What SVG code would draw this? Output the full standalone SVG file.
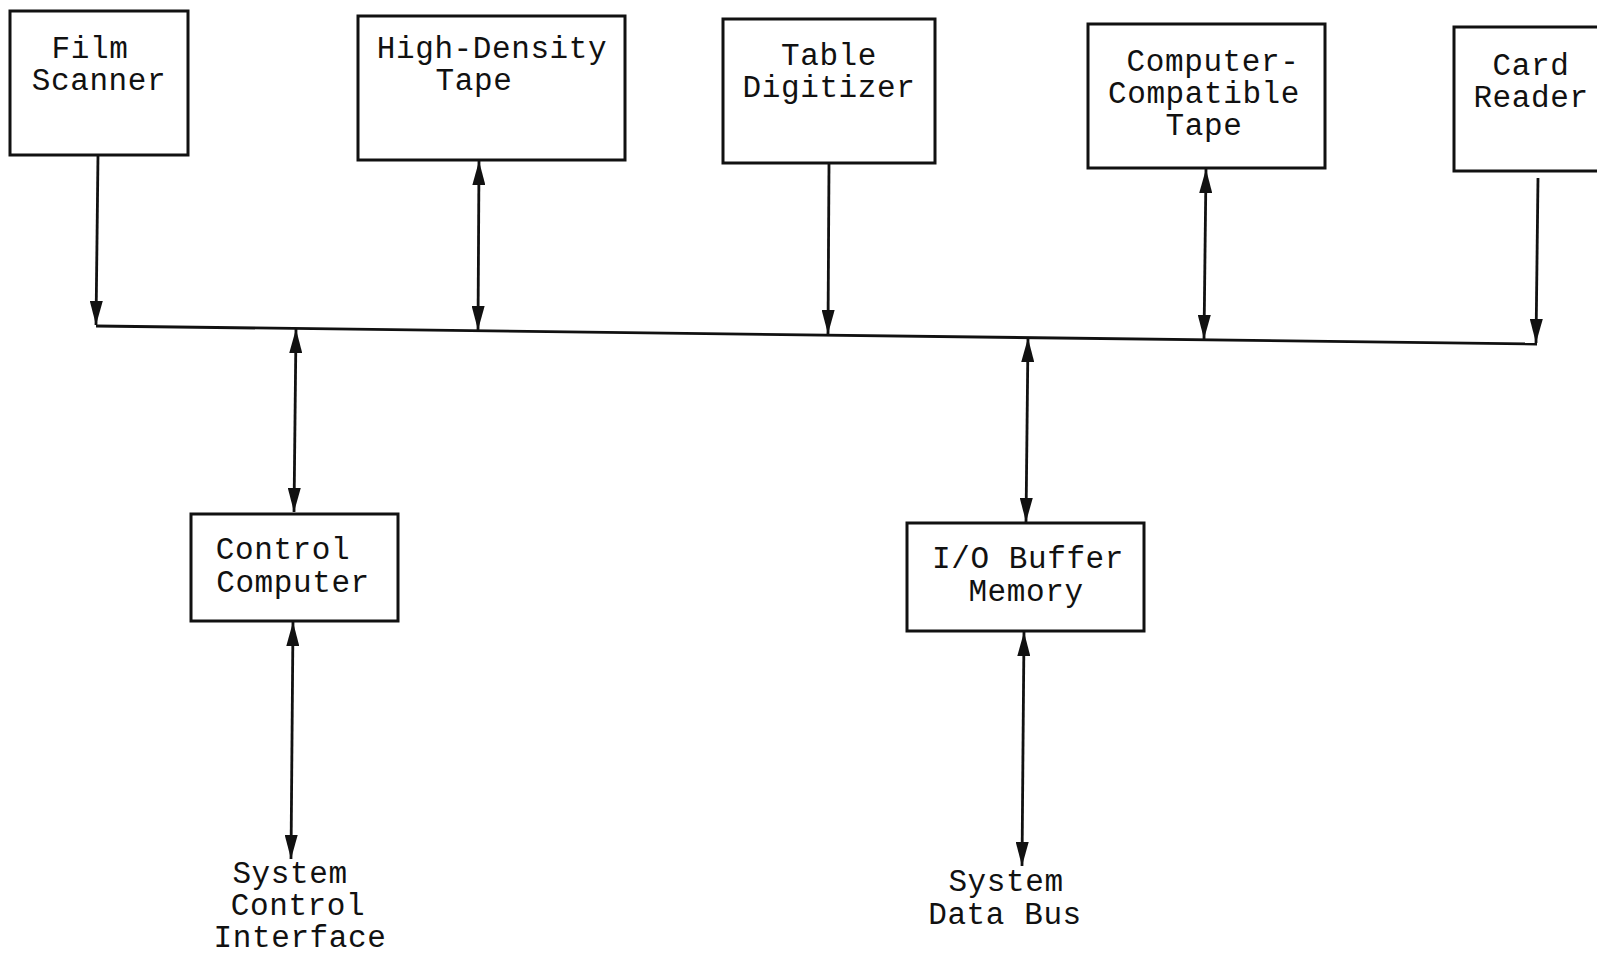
<svg xmlns="http://www.w3.org/2000/svg" width="1597" height="954" viewBox="0 0 1597 954">
  <defs>
    <marker id="head" viewBox="0 0 24 13" refX="24" refY="6.5" markerWidth="24" markerHeight="13" markerUnits="userSpaceOnUse" orient="auto-start-reverse">
      <path d="M0,0 L24,6.5 L0,13 z" fill="#111"/>
    </marker>
    <style>
      .box { fill: #fff; stroke: #111; stroke-width: 3; }
      .lbl { font-family: "Liberation Mono", "Courier New", monospace; font-size: 31px; letter-spacing: 0.6px; fill: #111; text-anchor: middle; }
      .wire { fill: none; stroke: #111; stroke-width: 2.8; }
      .one { marker-end: url(#head); }
      .two { marker-start: url(#head); marker-end: url(#head); }
    </style>
  </defs>
  <rect width="1597" height="954" fill="#fff"/>

  <!-- connectors -->
  <g id="connectors">
    <!-- shared bus -->
    <line class="wire" x1="96" y1="326" x2="1537" y2="344"/>
    <!-- device drops onto the bus -->
    <line class="wire one" x1="98" y1="155" x2="96" y2="325"/>
    <line class="wire two" x1="479" y1="161" x2="478" y2="330"/>
    <line class="wire one" x1="829" y1="164" x2="828" y2="334"/>
    <line class="wire two" x1="1206" y1="169" x2="1204" y2="339"/>
    <line class="wire one" x1="1538" y1="178" x2="1536" y2="343"/>
    <!-- bus to processing units -->
    <line class="wire two" x1="296" y1="329" x2="294" y2="512"/>
    <line class="wire two" x1="1028" y1="338" x2="1026" y2="522"/>
    <!-- outward links -->
    <line class="wire two" x1="293" y1="622" x2="291" y2="859"/>
    <line class="wire two" x1="1024" y1="632" x2="1022" y2="866"/>
  </g>

  <g id="film-scanner">
    <rect class="box" x="10" y="11" width="178" height="144"/>
    <text class="lbl" x="90" y="58">Film</text>
    <text class="lbl" x="99" y="90">Scanner</text>
  </g>

  <g id="high-density-tape">
    <rect class="box" x="358" y="16" width="267" height="144"/>
    <text class="lbl" x="492" y="58">High-Density</text>
    <text class="lbl" x="474" y="90">Tape</text>
  </g>

  <g id="table-digitizer">
    <rect class="box" x="723" y="19" width="212" height="144"/>
    <text class="lbl" x="829" y="65">Table</text>
    <text class="lbl" x="829" y="97">Digitizer</text>
  </g>

  <g id="cct">
    <rect class="box" x="1088" y="24" width="237" height="144"/>
    <text class="lbl" x="1213" y="71">Computer-</text>
    <text class="lbl" x="1204" y="103">Compatible</text>
    <text class="lbl" x="1204" y="135">Tape</text>
  </g>

  <g id="card-reader">
    <rect class="box" x="1454" y="27" width="160" height="144"/>
    <text class="lbl" x="1531" y="75">Card</text>
    <text class="lbl" x="1531" y="107">Reader</text>
  </g>

  <g id="control-computer">
    <rect class="box" x="191" y="514" width="207" height="107"/>
    <text class="lbl" x="283" y="559">Control</text>
    <text class="lbl" x="293" y="592">Computer</text>
  </g>

  <g id="io-buffer">
    <rect class="box" x="907" y="523" width="237" height="108"/>
    <text class="lbl" x="1028" y="568">I/O Buffer</text>
    <text class="lbl" x="1026" y="601">Memory</text>
  </g>

  <g id="system-control-interface">
    <text class="lbl" x="290" y="883">System</text>
    <text class="lbl" x="298" y="915">Control</text>
    <text class="lbl" x="300" y="947">Interface</text>
  </g>

  <g id="system-data-bus">
    <text class="lbl" x="1006" y="891">System</text>
    <text class="lbl" x="1005" y="924">Data Bus</text>
  </g>
</svg>
